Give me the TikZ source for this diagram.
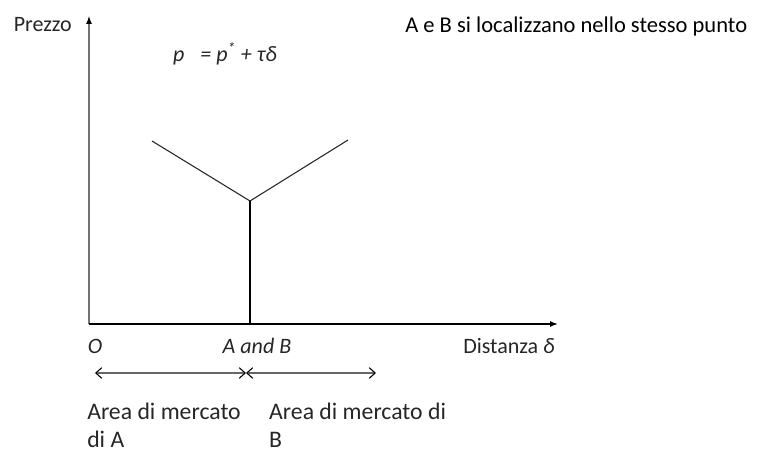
\documentclass[tikz,border=0pt]{standalone}
\usepackage{fontspec}
\setmainfont{Carlito}
\usepackage{tikz}
\usetikzlibrary{arrows.meta,positioning}

\begin{document}
\begin{tikzpicture}[x=0.75pt,y=-0.75pt,
  lbl/.style={inner sep=0pt,font=\fontsize{16.5}{21}\selectfont,text=black!85},
  area/.style={lbl,align=left,anchor=north west,font=\fontsize{17.8}{20.5}\selectfont},
  axisx/.style={line width=1pt,-{Latex[length=6pt,width=4.5pt]}},
  axisy/.style={line width=0.8pt,black!55,-{Latex[length=6pt,width=4.5pt,black]}},
  curve/.style={line width=0.8pt,black!85},
  border/.style={line width=1.8pt},
  market/.style={line width=0.8pt,black!60,{Straight Barb[length=4.5pt,width=8pt,black]}-{Straight Barb[length=4.5pt,width=8pt,black]}}]
\useasboundingbox (0,0) rectangle (761,453);
% axes
\coordinate (O) at (89,324);
\coordinate (yT) at (89,16);
\coordinate (xT) at (558,324);
\draw[axisy] (O) -- (yT);
\draw[axisx] (O) -- (xT);
% price schedule
\coordinate (AB) at (250,324);
\coordinate (K) at (250,201);
\coordinate (L) at (152,141);
\coordinate (R) at (348,140);
\draw[curve] (L) -- (K) -- (R);
\draw[border] (AB) -- (K);
% market areas
\coordinate (m1) at (95,373);
\coordinate (m2) at (246,373);
\coordinate (m3) at (376,373);
\draw[market] (m1) -- (m2);
\draw[market] (m2) -- (m3);
% labels
\node[lbl,anchor=east] (prezzo) at (72,25) {Prezzo};
\node[lbl] (eq) at (225,54) {\itshape p\enspace\ = p\textsuperscript{*} + τδ};
\node[lbl,anchor=west,text=black,font=\fontsize{16.9}{21}\selectfont] (title) at (405,26) {A e B si localizzano nello stesso punto};
\node[lbl] (o) at (95,346) {\itshape O};
\node[lbl] (ab) at (257,346) {\itshape A and B};
\node[lbl] (dist) at (509,346) {Distanza \textit{δ}};
\node[area] (areaA) at (87,403) {Area di mercato\\di A};
\node[area,right=21pt of areaA.north east,anchor=north west] (areaB) {Area di mercato di\\B};
\end{tikzpicture}
\end{document}
